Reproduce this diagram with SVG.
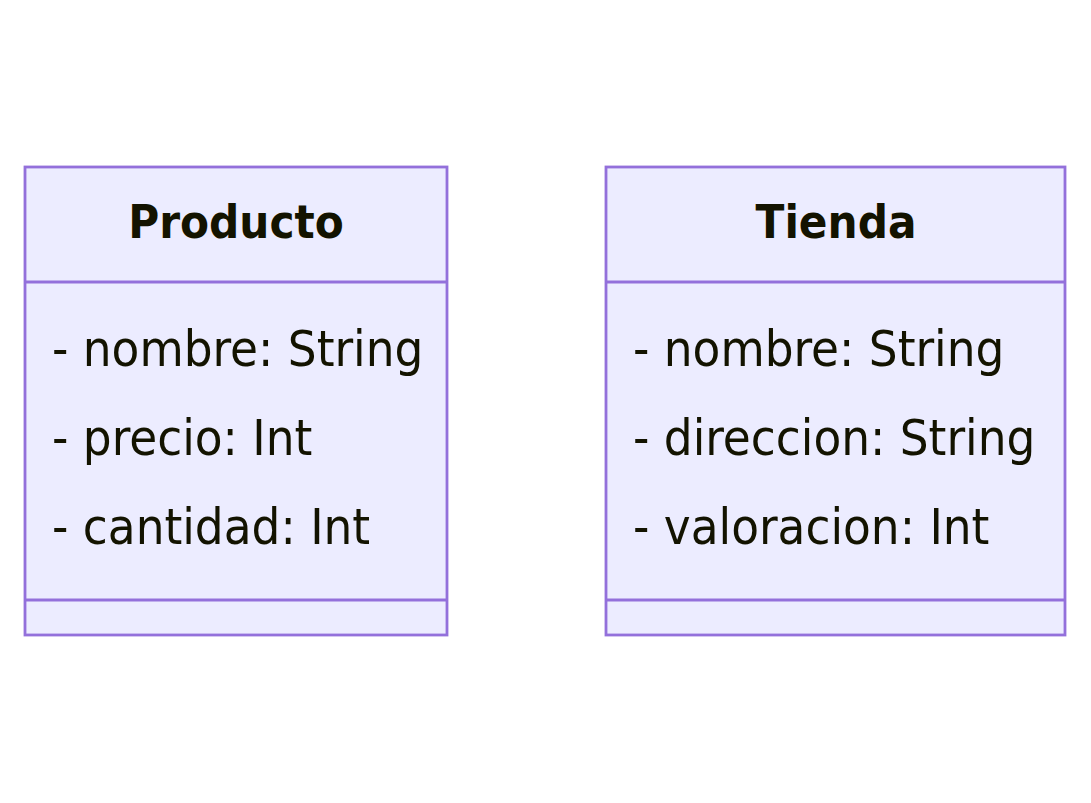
<svg xmlns="http://www.w3.org/2000/svg" width="1091" height="803" viewBox="0 0 1091 803">
<style>
.box{fill:#ECECFF;stroke:#9370DB;stroke-width:2.8}
.div{stroke:#9370DB;stroke-width:2.8;fill:none}
.title{font-family:"DejaVu Sans Condensed","DejaVu Sans",sans-serif;font-stretch:condensed;font-weight:bold;font-size:47px;fill:#131300;text-anchor:middle}
.mem{font-family:"DejaVu Sans Condensed","DejaVu Sans",sans-serif;font-stretch:condensed;font-size:50.5px;fill:#131300}
</style>
<rect width="1091" height="803" fill="#ffffff"/>
<g id="connectors"></g>
<g id="Producto">
<rect class="box" x="25" y="167" width="422" height="468"/>
<line class="div" x1="25" y1="282" x2="447" y2="282"/>
<line class="div" x1="25" y1="600" x2="447" y2="600"/>
<text class="title" x="236" y="238">Producto</text>
<text class="mem" x="52" y="366">- nombre: String</text>
<text class="mem" x="52" y="455">- precio: Int</text>
<text class="mem" x="52" y="544">- cantidad: Int</text>
</g>
<g id="Tienda">
<rect class="box" x="606" y="167" width="459" height="468"/>
<line class="div" x1="606" y1="282" x2="1065" y2="282"/>
<line class="div" x1="606" y1="600" x2="1065" y2="600"/>
<text class="title" x="836" y="238">Tienda</text>
<text class="mem" x="633" y="366">- nombre: String</text>
<text class="mem" x="633" y="455">- direccion: String</text>
<text class="mem" x="633" y="544">- valoracion: Int</text>
</g>
</svg>
